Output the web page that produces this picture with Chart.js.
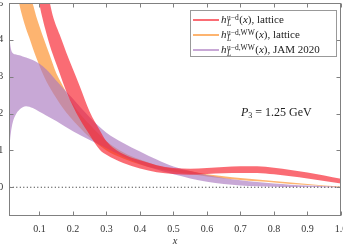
<!DOCTYPE html>
<html>
<head>
<meta charset="utf-8">
<script src="https://cdn.jsdelivr.net/npm/chart.js@4"></script>
<style>
  html, body { margin: 0; padding: 0; background: #fff; overflow: hidden; }
  body { width: 343px; height: 244px; position: relative; font-family: "Liberation Serif", "DejaVu Serif", serif; }
  #wrap { position: absolute; left: -20px; top: -10px; width: 380px; height: 264px; }
  .legend { position: absolute; left: 190px; top: 10px; width: 145px; height: 45px; border: 1px solid #999; background: #fff; font-size: 11px; color: #222; }
  .row { position: absolute; left: 0; height: 15px; line-height: 15px; white-space: nowrap; }
  .row .ln { position: absolute; left: 2px; top: 6.5px; width: 26px; height: 2px; }
  .row .tx { position: absolute; left: 30px; top: 0; }
  .ss { display: inline-block; vertical-align: -3px; line-height: 6.5px; font-size: 7.5px; margin-left: 0.5px; margin-right: 0.5px; }
  .ss span { display: block; }
  .note { position: absolute; left: 241px; top: 105px; font-size: 12px; color: #222; white-space: nowrap; }
  .note sub { font-size: 8px; vertical-align: -2px; }
</style>
</head>
<body>
<div id="wrap"><canvas id="chart"></canvas></div>

<div class="legend">
  <div class="row" style="top:1px"><div class="ln" style="background:#fa6c74"></div><div class="tx"><i>h</i><span class="ss"><span>u−d</span><span><i>L</i></span></span>(<i>x</i>), lattice</div></div>
  <div class="row" style="top:16px"><div class="ln" style="background:#fdb470"></div><div class="tx"><i>h</i><span class="ss"><span>u−d,WW</span><span><i>L</i></span></span>(<i>x</i>), lattice</div></div>
  <div class="row" style="top:31px"><div class="ln" style="background:#c8a8d6"></div><div class="tx"><i>h</i><span class="ss"><span>u−d,WW</span><span><i>L</i></span></span>(<i>x</i>), JAM 2020</div></div>
</div>
<div class="note"><i>P</i><sub>3</sub> = 1.25 GeV</div>

<script>
const xTicks = [0.1, 0.2, 0.3, 0.4, 0.5, 0.6, 0.7, 0.8, 0.9, 1];
const yTicks = [0, 1, 2, 3, 4, 5];

// h_L^{u-d}(x), lattice
const redX    = [0.085, 0.09, 0.1, 0.11, 0.12, 0.131, 0.14, 0.16, 0.18, 0.2, 0.22, 0.25, 0.28, 0.3, 0.35, 0.4, 0.45, 0.5, 0.55, 0.6, 0.65, 0.7, 0.75, 0.8, 0.85, 0.9, 0.95, 1.0];
const redLow  = [5.9, 5.6, 4.97, 4.55, 4.2, 3.85, 3.6, 3.1, 2.6, 2.2, 1.85, 1.42, 1.02, 0.88, 0.66, 0.51, 0.41, 0.36, 0.34, 0.36, 0.38, 0.39, 0.39, 0.35, 0.3, 0.24, 0.17, 0.1];
const redHigh = [7.0, 6.75, 6.25, 5.8, 5.4, 5.0, 4.65, 4.15, 3.66, 3.2, 2.75, 2.05, 1.55, 1.25, 0.9, 0.73, 0.6, 0.52, 0.5, 0.52, 0.55, 0.57, 0.57, 0.53, 0.47, 0.4, 0.32, 0.23];

// h_L^{u-d,WW}(x), lattice
const orangeX    = [0.03, 0.04, 0.05, 0.06, 0.07, 0.08, 0.09, 0.1, 0.114, 0.13, 0.15, 0.17, 0.19, 0.22, 0.25, 0.3, 0.35, 0.4, 0.45, 0.5, 0.55, 0.6, 0.65, 0.7, 0.75, 0.8, 0.85, 0.9, 0.95, 1.0];
const orangeLow  = [5.55, 4.97, 4.6, 4.3, 4.05, 3.78, 3.53, 3.3, 3.0, 2.72, 2.42, 2.15, 1.92, 1.62, 1.35, 1.0, 0.78, 0.62, 0.5, 0.42, 0.36, 0.29, 0.24, 0.2, 0.16, 0.13, 0.09, 0.06, 0.03, 0.005];
const orangeHigh = [6.6, 6.1, 5.7, 5.35, 5.15, 4.97, 4.65, 4.37, 4.0, 3.6, 3.1, 2.75, 2.4, 2.0, 1.7, 1.25, 0.95, 0.75, 0.6, 0.5, 0.44, 0.35, 0.3, 0.25, 0.21, 0.17, 0.13, 0.09, 0.05, 0.02];

// h_L^{u-d,WW}(x), JAM 2020
const purpleX    = [0.01, 0.012, 0.015, 0.02, 0.03, 0.04, 0.05, 0.06, 0.08, 0.1, 0.12, 0.15, 0.2, 0.25, 0.3, 0.35, 0.4, 0.45, 0.5, 0.55, 0.6, 0.65, 0.7, 0.75, 0.8, 0.85, 0.9, 0.95, 1.0];
const purpleLow  = [1.0, 1.25, 1.5, 1.75, 1.98, 2.1, 2.17, 2.2, 2.15, 2.05, 1.95, 1.8, 1.52, 1.28, 1.06, 0.83, 0.63, 0.48, 0.35, 0.24, 0.15, 0.09, 0.05, 0.03, 0.015, 0.008, 0.004, 0.002, 0];
const purpleHigh = [4.2, 3.95, 3.75, 3.64, 3.6, 3.58, 3.55, 3.52, 3.45, 3.35, 3.2, 2.9, 2.4, 1.9, 1.48, 1.2, 0.97, 0.75, 0.56, 0.44, 0.33, 0.25, 0.19, 0.14, 0.1, 0.07, 0.05, 0.03, 0.01];

const zeroX = [0.01, 1];
const zeroY = [0, 0];

const pts = (xs, ys) => xs.map((x, i) => ({ x: x, y: ys[i] }));

const edge = (xs, ys, fill, color) => ({
    data: pts(xs, ys),
    borderWidth: 0,
    borderColor: 'rgba(0,0,0,0)',
    backgroundColor: color || 'rgba(0,0,0,0)',
    pointRadius: 0,
    cubicInterpolationMode: 'monotone',
    capBezierPoints: false,
    fill: fill
});

// box round the plot, ticks pointing inwards on all four sides
const framePlugin = {
    id: 'frame',
    afterDatasetsDraw(chart) {
        const { ctx, chartArea: a, scales: { x, y } } = chart;
        ctx.save();
        ctx.strokeStyle = '#808080';
        ctx.lineWidth = 1;
        const l = Math.round(a.left) + 0.5, r = Math.round(a.right) - 0.5;
        const t = Math.round(a.top) + 0.5, b = Math.round(a.bottom) - 0.5;
        ctx.strokeRect(l, t, r - l, b - t);
        ctx.beginPath();
        xTicks.forEach(v => {
            const px = Math.round(x.getPixelForValue(v)) + 0.5;
            ctx.moveTo(px, b); ctx.lineTo(px, b - 4);
            ctx.moveTo(px, t); ctx.lineTo(px, t + 4);
        });
        yTicks.forEach(v => {
            const py = Math.round(y.getPixelForValue(v)) + 0.5;
            ctx.moveTo(l, py); ctx.lineTo(l + 4, py);
            ctx.moveTo(r, py); ctx.lineTo(r - 4, py);
        });
        ctx.stroke();
        ctx.restore();
    }
};

const tickFont = { family: '"Liberation Serif", "DejaVu Serif", serif', size: 10 };

// dataset 0 is drawn last, so red sits on top, then purple, then orange
new Chart(document.getElementById('chart'), {
    type: 'line',
    data: {
        datasets: [
            {
                data: pts(zeroX, zeroY),
                borderColor: '#222',
                borderWidth: 1,
                borderDash: [1, 2.5],
                pointRadius: 0,
                fill: false
            },
            edge(redX, redLow, false),
            edge(redX, redHigh, '-1', 'rgba(247, 29, 41, 0.65)'),
            edge(purpleX, purpleLow, false),
            edge(purpleX, purpleHigh, '-1', 'rgba(170, 121, 192, 0.65)'),
            edge(orangeX, orangeLow, false),
            edge(orangeX, orangeHigh, '-1', 'rgba(252, 140, 35, 0.65)')
        ]
    },
    options: {
        responsive: true,
        maintainAspectRatio: false,
        animation: false,
        events: [],
        layout: { padding: { left: 0, right: 19, top: 13, bottom: 2 } },
        plugins: {
            legend: { display: false },
            tooltip: { enabled: false }
        },
        scales: {
            x: {
                type: 'linear',
                min: 0.01,
                max: 1,
                afterBuildTicks: axis => { axis.ticks = xTicks.map(v => ({ value: v })); },
                afterFit: axis => { axis.height = 36; },
                grid: { display: false, drawTicks: false },
                border: { display: false },
                ticks: { color: '#333', font: tickFont, padding: 7, maxRotation: 0, autoSkip: false },
                title: {
                    display: true,
                    text: 'x',
                    color: '#333',
                    font: { family: tickFont.family, size: 10.5, style: 'italic' },
                    padding: { top: 0, bottom: 4 }
                }
            },
            y: {
                min: -0.78,
                max: 5,
                afterBuildTicks: axis => { axis.ticks = yTicks.map(v => ({ value: v })); },
                afterFit: axis => { axis.width = 29.3; },
                grid: { display: false, drawTicks: false },
                border: { display: false },
                ticks: { color: '#333', font: tickFont, padding: 6, autoSkip: false }
            }
        }
    },
    plugins: [framePlugin]
});
</script>
</body>
</html>
